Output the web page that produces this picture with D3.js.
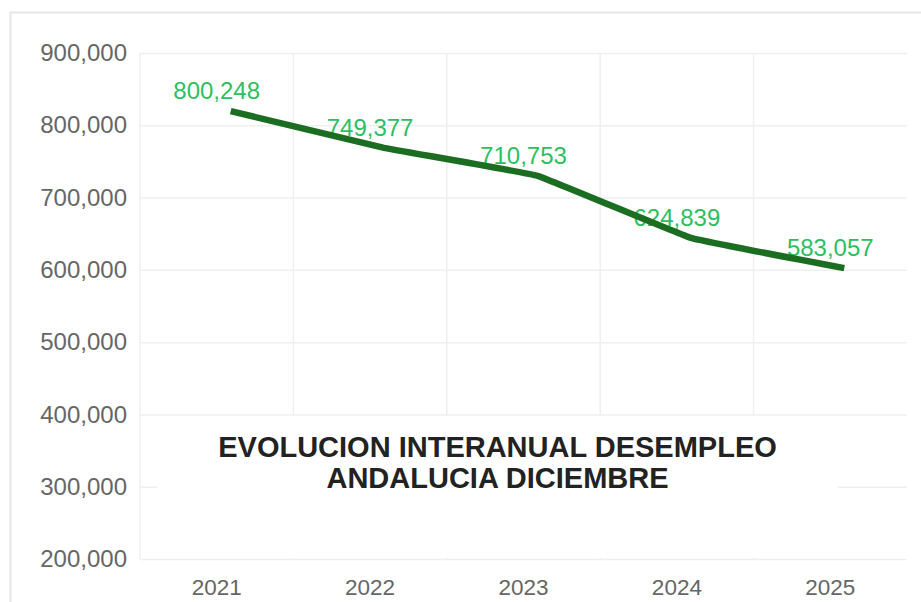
<!DOCTYPE html>
<html><head><meta charset="utf-8">
<script src="https://cdn.jsdelivr.net/npm/d3@7"></script>
<style>
body{margin:0;background:#fff;}
svg{display:block;font-family:"Liberation Sans",Arial,sans-serif;}
</style>
</head><body>
<svg id="c" width="921" height="602"></svg>
<script>
const years = ["2021", "2022", "2023", "2024", "2025"];
const unemployed = [800248, 749377, 710753, 624839, 583057];
const yTicks = [200000, 300000, 400000, 500000, 600000, 700000, 800000, 900000];
const titleLines = ["EVOLUCION INTERANUAL DESEMPLEO", "ANDALUCIA DICIEMBRE"];

const W = 921, H = 602;
const plot = {left: 140, right: 907, top: 53, bottom: 559};
const data = years.map((yr, i) => ({year: yr, v: unemployed[i]}));

const svg = d3.select("#c");

// outer frame
svg.append("rect").attr("x", 10.5).attr("y", 12.5).attr("width", W).attr("height", H)
  .attr("fill", "#fff").attr("stroke", "#e6e6e6").attr("stroke-width", 2);

const x = d3.scaleBand().domain(years).range([plot.left, plot.right]);
const y = d3.scaleLinear().domain([200000, 900000]).range([plot.bottom, plot.top]);

// y axis + horizontal grid
const yAxis = svg.append("g").attr("transform", `translate(${plot.left},0)`)
  .call(d3.axisLeft(y).tickValues(yTicks).tickFormat(d3.format(","))
    .tickSize(-(plot.right - plot.left)).tickPadding(13));
yAxis.select(".domain").remove();
yAxis.selectAll("line").attr("stroke", "#efefef").attr("stroke-width", 1.5);
yAxis.selectAll("text").attr("fill", "#666").style("font-size", "24px");

// vertical grid lines at category boundaries
svg.append("g").selectAll("line").data(years).join("line")
  .attr("x1", d => x(d)).attr("x2", d => x(d))
  .attr("y1", plot.top).attr("y2", plot.bottom)
  .attr("stroke", "#efefef").attr("stroke-width", 1.5);

// x axis labels
const xAxis = svg.append("g").attr("transform", `translate(0,${plot.bottom})`)
  .call(d3.axisBottom(x).tickSize(0).tickPadding(20));
xAxis.select(".domain").remove();
xAxis.selectAll("text").attr("fill", "#666").style("font-size", "22.5px");

// title box (white background covers the grid)
svg.append("rect").attr("x", 157).attr("y", 416).attr("width", 681).attr("height", 142)
  .attr("fill", "#fff");
svg.append("g").selectAll("text").data(titleLines).join("text")
  .attr("x", 497.5).attr("y", (d, i) => 457 + i * 31)
  .attr("text-anchor", "middle").attr("fill", "#222")
  .style("font-size", "29px").style("font-weight", "bold")
  .text(d => d);

// data labels
svg.append("g").selectAll("text").data(data).join("text")
  .attr("x", d => x(d.year) + x.bandwidth() / 2)
  .attr("y", d => y(d.v) - 26)
  .attr("text-anchor", "middle").attr("fill", "#2cbf60")
  .style("font-size", "24px")
  .text(d => d3.format(",")(d.v));

// line (drawn slightly offset as in the reference)
const line = d3.line().x(d => x(d.year) + x.bandwidth() / 2).y(d => y(d.v))
  .curve(d3.curveCardinal.tension(0.8));
svg.append("g").attr("transform", "translate(14,-14)")
  .append("path").datum(data).attr("d", line)
  .attr("fill", "none").attr("stroke", "#1b6e21").attr("stroke-width", 6.5)
  .attr("stroke-linecap", "butt");
</script>
</body></html>
